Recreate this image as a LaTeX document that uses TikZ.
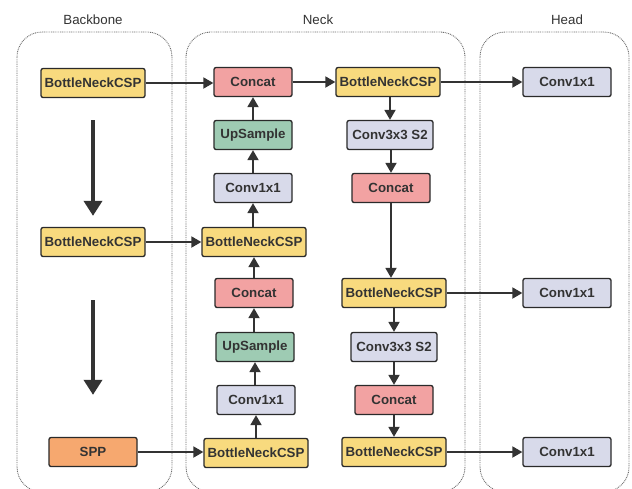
\documentclass[tikz,border=0pt]{standalone}
\usepackage{fontspec}
\setmainfont{Liberation Sans}
\usetikzlibrary{arrows.meta}
\definecolor{cspY}{HTML}{F8DA7E}
\definecolor{catR}{HTML}{F2A2A2}
\definecolor{upG}{HTML}{9ECBB3}
\definecolor{convB}{HTML}{D8DAEA}
\definecolor{sppO}{HTML}{F6A86F}
\definecolor{edge}{HTML}{2A2A2A}
\definecolor{ink}{HTML}{333333}
\definecolor{frame}{HTML}{6E6E6E}
\tikzset{
  blk/.style={draw=edge, line width=1.3pt, rounded corners=2pt, minimum height=29pt,
    inner sep=0pt, text=ink, font=\fontsize{13.3}{15}\selectfont\bfseries},
  csp/.style={blk, fill=cspY, minimum width=104pt},
  cat/.style={blk, fill=catR, minimum width=78pt},
  ups/.style={blk, fill=upG, minimum width=78pt},
  cva/.style={blk, fill=convB, minimum width=78pt},
  cvh/.style={blk, fill=convB, minimum width=88pt},
  cvs/.style={blk, fill=convB, minimum width=86pt},
  spp/.style={blk, fill=sppO, minimum width=88pt},
  arr/.style={draw=ink, line width=1.8pt, -{Triangle[width=11pt,length=10pt]}},
  bigarr/.style={draw=ink, line width=3.6pt, -{Triangle[width=18pt,length=15pt]}},
  group/.style={draw=frame, line width=0.9pt, dash pattern=on 0.9pt off 0.9pt, rounded corners=25pt},
  title/.style={text=ink, font=\fontsize{13.3}{15}\selectfont}
}
\begin{document}
\begin{tikzpicture}[x=1pt,y=1pt]
\clip (0,0) rectangle (632,-488);
\fill[white] (0,0) rectangle (632,-488);

% stage frames
\draw[group] (17,-32) rectangle (172,-492);
\draw[group] (186,-32) rectangle (465,-492);
\draw[group] (480,-32) rectangle (629,-492);
\node[title] (tb) at (93,-20) {Backbone};
\node[title] (tn) at (318,-20) {Neck};
\node[title] (th) at (567,-20) {Head};

% backbone
\node[csp] (b1) at (93,-83) {BottleNeckCSP};
\node[csp] (b2) at (93,-242) {BottleNeckCSP};
\node[spp] (b3) at (93,-452) {SPP};

% neck, upward path
\node[cat] (c1) at (253,-82) {Concat};
\node[ups] (u1) at (253,-135) {UpSample};
\node[cva] (k1) at (253,-188) {Conv1x1};
\node[csp] (n2) at (254,-242) {BottleNeckCSP};
\node[cat] (c2) at (254,-293) {Concat};
\node[ups] (u2) at (255,-347) {UpSample};
\node[cva] (k2) at (256,-400) {Conv1x1};
\node[csp] (n3) at (256,-453) {BottleNeckCSP};

% neck, downward path
\node[csp] (r1) at (388,-82) {BottleNeckCSP};
\node[cvs] (s1) at (390,-135) {Conv3x3 S2};
\node[cat] (c3) at (391,-188) {Concat};
\node[csp] (r2) at (394,-293) {BottleNeckCSP};
\node[cvs] (s2) at (394,-347) {Conv3x3 S2};
\node[cat] (c4) at (394,-400) {Concat};
\node[csp] (r3) at (394,-452) {BottleNeckCSP};

% head
\node[cvh] (h1) at (567,-82) {Conv1x1};
\node[cvh] (h2) at (567,-293) {Conv1x1};
\node[cvh] (h3) at (567,-452) {Conv1x1};

% backbone flow
\draw[bigarr, shorten <=22pt, shorten >=11pt] (b1) -- (b2);
\draw[bigarr, shorten <=43pt, shorten >=42pt] (b2) -- (b3);

% lateral links
\draw[arr] (b1) -- (b1 -| c1.west);
\draw[arr] (b2) -- (n2);
\draw[arr] (b3) -- (b3 -| n3.west);
\draw[arr] (c1) -- (r1);
\draw[arr] (r1) -- (h1);
\draw[arr] (r2) -- (h2);
\draw[arr] (r3) -- (h3);

% upward path
\draw[arr] (n3.north -| k2) -- (k2.south);
\draw[arr] (k2.north -| u2) -- (u2.south);
\draw[arr] (u2.north -| c2) -- (c2.south);
\draw[arr] (c2.north -| n2) -- (n2.south);
\draw[arr] (n2.north -| k1) -- (k1.south);
\draw[arr] (k1) -- (u1);
\draw[arr] (u1) -- (c1);

% downward path
\draw[arr] (r1.south -| s1) -- (s1.north);
\draw[arr] (s1.south -| c3) -- (c3.north);
\draw[arr] (c3.south) -- (c3.south |- r2.north);
\draw[arr] (r2) -- (s2);
\draw[arr] (s2) -- (c4);
\draw[arr] (c4) -- (r3);
\end{tikzpicture}
\end{document}
